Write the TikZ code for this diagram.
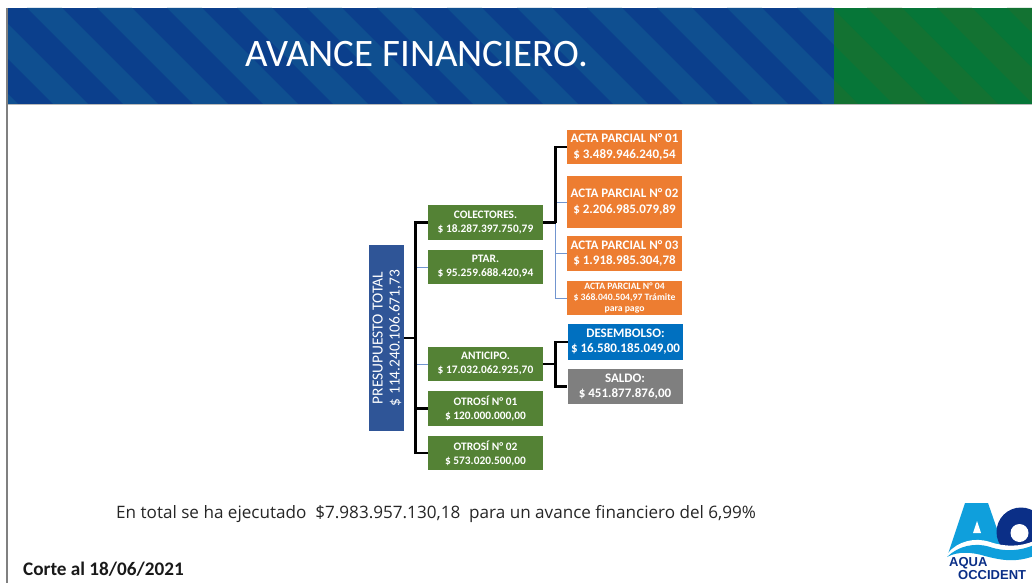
\documentclass[tikz,border=0pt]{standalone}
\usepackage{fontspec}
\setmainfont{Carlito}
\newfontfamily\bodyfont{Open Sans}
\newfontfamily\logofont{Liberation Sans}
\definecolor{bandblue}{HTML}{0B3F8C}
\definecolor{bandbluelt}{HTML}{0F4F90}
\definecolor{bandgreen}{HTML}{067638}
\definecolor{bandgreendk}{HTML}{137232}
\definecolor{boxgreen}{HTML}{548235}
\definecolor{boxorange}{HTML}{ED7D31}
\definecolor{boxblue}{HTML}{0070C0}
\definecolor{boxgrey}{HTML}{7F7F7F}
\definecolor{boxnavy}{HTML}{2F5597}
\definecolor{thinblue}{HTML}{7195CF}
\definecolor{logolt}{HTML}{0F9FDC}
\definecolor{logodk}{HTML}{0B2F87}
\tikzset{
  x=1pt,y=-1pt,
  card/.style={minimum width=115pt,inner sep=0pt,align=center,text=white},
  greencard/.style={card,fill=boxgreen,minimum height=34.5pt,font=\bfseries\fontsize{11.4}{14}\selectfont},
  orangecard/.style={card,fill=boxorange,font=\bfseries\fontsize{13}{15.5}\selectfont},
  bigcard/.style={card,font=\bfseries\fontsize{13}{15}\selectfont},
  blk/.style={draw=black,line width=2.2pt},
  thn/.style={draw=thinblue,line width=0.8pt},
}
\begin{document}
\begin{tikzpicture}
\useasboundingbox (0,0) rectangle (1032,583);
\fill[white] (0,0) rectangle (1032,583);
% band
\fill[bandblue] (8,8) rectangle (834,104);
\fill[bandgreen] (834,8) rectangle (1032,104);
\begin{scope}
\clip (8,8) rectangle (834,104);
\foreach \k in {-2,...,12}{
  \fill[bandbluelt] ({27+70*\k},8) -- ({62+70*\k},8) -- ({158+70*\k},104) -- ({123+70*\k},104) -- cycle;
}
\end{scope}
\begin{scope}
\clip (834,8) rectangle (1032,104);
\foreach \k in {10,...,15}{
  \fill[bandgreendk] ({27+70*\k},8) -- ({62+70*\k},8) -- ({158+70*\k},104) -- ({123+70*\k},104) -- cycle;
}
\end{scope}
\fill[gray!55] (8,104) rectangle (1032,105);
\fill[gray] (6,8) rectangle (8,583);
\node[anchor=base west,inner sep=0pt,text=white,font=\fontsize{38.9}{42}\selectfont] (title) at (245,66.5) {AVANCE FINANCIERO.};
% cards
\node[card,fill=boxnavy,minimum width=35pt,minimum height=186pt] (pres) at (386.5,338) {};
\node[rotate=90,inner sep=0pt,align=center,text=white,font=\fontsize{15.4}{17}\selectfont] (prestext) at (387,338) {PRESUPUESTO TOTAL\\\$ 114.240.106.671,73};
\node[greencard] (colect) at (485.5,222.5) {COLECTORES.\\\$ 18.287.397.750,79};
\node[greencard] (ptar) at (485.5,267) {PTAR.\\\$ 95.259.688.420,94};
\node[greencard] (antic) at (485.5,364) {ANTICIPO.\\\$ 17.032.062.925,70};
\node[greencard] (otro1) at (485.5,408.5) {OTROSÍ N° 01\\\$ 120.000.000,00};
\node[greencard] (otro2) at (485.5,453) {OTROSÍ N° 02\\\$ 573.020.500,00};
\node[orangecard,minimum height=34pt] (a1) at (624.5,147) {ACTA PARCIAL N° 01\\\$ 3.489.946.240,54};
\node[orangecard,minimum height=52pt] (a2) at (624.5,202) {ACTA PARCIAL N° 02\\\$ 2.206.985.079,89};
\node[orangecard,minimum height=35pt] (a3) at (624.5,253.5) {ACTA PARCIAL N° 03\\\$ 1.918.985.304,78};
\node[card,fill=boxorange,minimum height=34pt,font=\bfseries\fontsize{9.7}{11}\selectfont] (a4) at (624.5,298) {ACTA PARCIAL N° 04\\\$ 368.040.504,97 Trámite\\para pago};
\node[bigcard,fill=boxblue,minimum height=36pt] (des) at (625.5,342) {DESEMBOLSO:\\\$ 16.580.185.049,00};
\node[bigcard,fill=boxgrey,minimum height=35pt] (sal) at (625,386.5) {SALDO:\\\$ 451.877.876,00};
% connectors
\coordinate (sp) at (415.5,338);
\coordinate (cb) at (555.5,222.5);
\coordinate (ab) at (555.5,364);
\draw[thn] (sp) |- (ptar.west);
\draw[thn] (sp) |- (antic.west);
\draw[thn] (cb) |- (a2.west);
\draw[thn] (cb) |- (a3.west);
\draw[thn] (cb) |- (a4.west);
\draw[blk] (pres.east) -- (sp);
\draw[blk] (sp) |- (colect.west);
\draw[blk] (sp) |- (otro1.west);
\draw[blk] (sp) |- (otro2.west);
\draw[blk] (colect.east) -- (cb);
\draw[blk] (cb) |- (a1.west);
\draw[blk] (antic.east) -- (ab);
\draw[blk] (ab) |- (des.west);
\draw[blk] (ab) |- (sal.west);
% texts
\node[anchor=base west,inner sep=0pt,font=\bodyfont\fontsize{17.1}{20}\selectfont,text=black!85] (summary) at (116,518) {En total se ha ejecutado\ \ \$7.983.957.130,18\ \ para un avance financiero del 6,99\%};
\node[anchor=base west,inner sep=0pt,font=\bfseries\fontsize{19.2}{22}\selectfont,text=black!90] (corte) at (23,575) {Corte al 18/06/2021};
% logo
\fill[logolt] (947,557) -- (965,503) -- (988,503) -- (1005,552) -- cycle;
\fill[white] (973,533) -- (981,533) -- (977,521) -- cycle;
\fill[logodk] (1021,532) circle (24.5);
\fill[white] (1019.5,533) ellipse (9 and 9);
\fill[white] (945,560) -- (948,553) .. controls (958,541) and (975,537) .. (990,542) .. controls (1005,547) and (1020,547) .. (1034,541) -- (1034,583) -- (945,583) -- cycle;
\fill[logolt] (947,557) .. controls (958,546) and (975,542) .. (990,547) .. controls (1005,552) and (1020,551) .. (1034,545) -- (1034,556) .. controls (1015,563) and (1000,560) .. (985,556) .. controls (972,552) and (958,551) .. (947,557) -- cycle;
\node[anchor=base west,inner sep=0pt,text=logodk,font=\logofont\bfseries\fontsize{13}{14}\selectfont] (logo1) at (949,566) {AQUA};
\node[anchor=base west,inner sep=0pt,text=logodk,font=\logofont\bfseries\fontsize{13}{14}\selectfont] (logo2) at (958,579) {OCCIDENT};
\end{tikzpicture}
\end{document}
